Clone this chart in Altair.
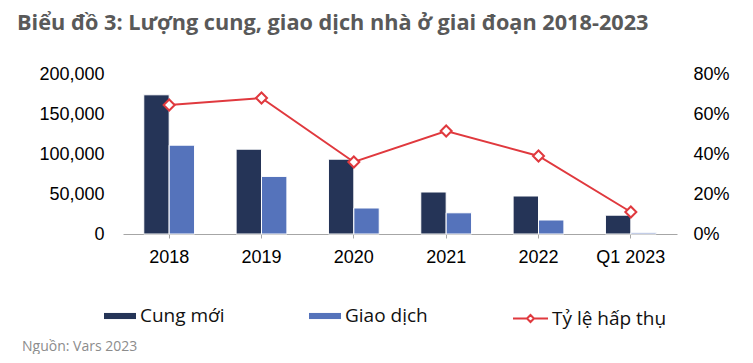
import altair as alt
import pandas as pd

years = ["2018", "2019", "2020", "2021", "2022", "Q1 2023"]
cung_moi = [174000, 106000, 93500, 52500, 47500, 23500]
giao_dich = [111000, 72000, 32500, 26500, 17500, 1500]
ty_le = [0.645, 0.68, 0.36, 0.515, 0.39, 0.11]

series_bar = ["Cung mới", "Giao dịch"]
series_line = "Tỷ lệ hấp thụ"
title_text = "Biểu đồ 3: Lượng cung, giao dịch nhà ở giai đoạn 2018-2023"
source_text = "Nguồn: Vars 2023"

bar_rows = []
for y, c, g in zip(years, cung_moi, giao_dich):
    bar_rows.append({"year": y, "series": series_bar[0], "value": c})
    bar_rows.append({"year": y, "series": series_bar[1], "value": g})
df_bars = pd.DataFrame(bar_rows)
df_line = pd.DataFrame({"year": years, "rate": ty_le, "s": [series_line] * len(years)})
df_src = pd.DataFrame({"t": [source_text]})

AXIS_FONT = "Liberation Sans"
LEG_FONT = "Open Sans"
RED = "#E0393E"

x_enc = alt.X("year:N", sort=years,
              scale=alt.Scale(paddingInner=0.45, paddingOuter=0.225),
              axis=alt.Axis(title=None, labelAngle=0, labelFont=AXIS_FONT, labelFontSize=18,
                            labelColor="#000000", domainColor="#A6A6A6", tickColor="#A6A6A6",
                            tickSize=4, labelPadding=10))

bars = alt.Chart(df_bars).mark_bar(stroke="white", strokeWidth=1).encode(
    x=x_enc,
    xOffset=alt.XOffset("series:N", sort=series_bar, scale=alt.Scale(paddingInner=0, paddingOuter=0)),
    y=alt.Y("value:Q", scale=alt.Scale(domain=[0, 200000]),
            axis=alt.Axis(title=None, values=[0, 50000, 100000, 150000, 200000],
                          labelExpr="format(datum.value, ',.0f')", labelOverlap=False,
                          domain=False, ticks=False, tickSize=0, grid=False, labelPadding=19,
                          labelFont=AXIS_FONT, labelFontSize=18, labelColor="#000000")),
    color=alt.Color("series:N", sort=series_bar,
                    scale=alt.Scale(domain=series_bar, range=["#253457", "#5573BB"]),
                    legend=alt.Legend(title=None, orient="none", legendX=-19, legendY=226,
                                      direction="horizontal", columnPadding=84, padding=0,
                                      symbolType="M-1,-0.19L1,-0.19L1,0.19L-1,0.19Z",
                                      symbolSize=1024, symbolStrokeWidth=0, labelOffset=4,
                                      labelFont=LEG_FONT, labelFontSize=19, labelColor="#111111")),
)

line = alt.Chart(df_line).mark_line(
    strokeWidth=2,
    point=alt.OverlayMarkDef(shape="diamond", size=121, filled=True, fill="white",
                             stroke=RED, strokeWidth=2, opacity=1),
).encode(
    x=alt.X("year:N", sort=years),
    y=alt.Y("rate:Q", scale=alt.Scale(domain=[0, 0.8]),
            axis=alt.Axis(title=None, orient="right", values=[0, 0.2, 0.4, 0.6, 0.8],
                          tickCount=5, labelExpr="format(datum.value, '.0%')", labelOverlap=False,
                          domain=False, ticks=False, tickSize=0, grid=False, labelPadding=16,
                          labelFont=AXIS_FONT, labelFontSize=18, labelColor="#000000")),
    stroke=alt.Stroke("s:N", scale=alt.Scale(domain=[series_line], range=[RED]),
                      legend=alt.Legend(title=None, orient="none", legendX=389, legendY=226, padding=0,
                                        symbolType="M-1,0L-0.2,0M0.2,0L1,0M-0.2,0L0,-0.2L0.2,0L0,0.2Z",
                                        symbolSize=1225, symbolStrokeWidth=2, symbolFillColor="white",
                                        symbolStrokeColor=RED, labelOffset=3,
                                        labelFont=LEG_FONT, labelFontSize=19, labelColor="#111111")),
)

src = alt.Chart(df_src).mark_text(align="left", baseline="middle", font=LEG_FONT, fontSize=14,
                                  color="#8C8C8C").encode(
    x=alt.value(-101), y=alt.value(273), text="t:N")

chart = alt.layer(bars, line, src).resolve_scale(y="independent").properties(
    width=554, height=160,
    title=alt.TitleParams(title_text, anchor="start", frame="group", dx=-106, offset=30,
                          font=LEG_FONT, fontSize=21.7, fontWeight="bold", color="#595959"),
    autosize=alt.AutoSizeParams(type="none"),
    padding={"left": 115, "top": 66, "right": 60, "bottom": 120},
).configure_view(stroke=None)

chart.save("out.html", embed_options={"renderer": "svg", "actions": False})
